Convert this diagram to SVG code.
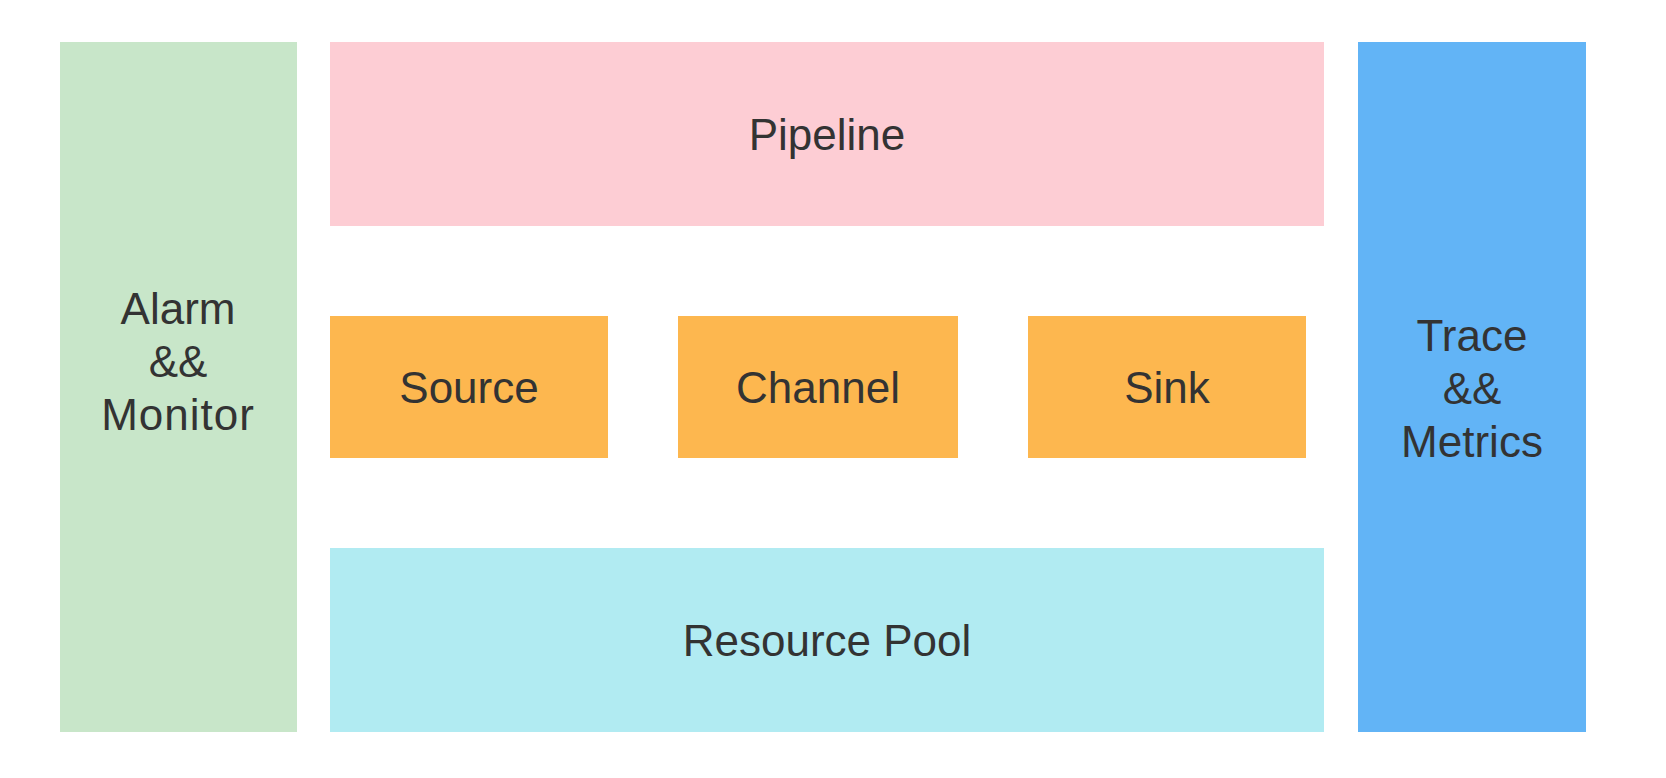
<svg xmlns="http://www.w3.org/2000/svg" width="1666" height="778" viewBox="0 0 1666 778">
<style>
text{font-family:"Liberation Sans",Arial,sans-serif;font-size:44px;fill:#333333;text-anchor:middle;dominant-baseline:central}
</style>
<rect x="0" y="0" width="1666" height="778" fill="#ffffff"/>
<g id="alarm"><rect x="60" y="42" width="237" height="690" fill="#C8E6C9"/><text x="178" y="308">Alarm</text><text x="178" y="361">&amp;&amp;</text><text x="178" y="414" letter-spacing="1">Monitor</text></g>
<g id="pipeline"><rect x="330" y="42" width="994" height="184" fill="#FDCDD4"/><text x="827" y="134">Pipeline</text></g>
<g id="source"><rect x="330" y="316" width="278" height="142" fill="#FDB74F"/><text x="469" y="387">Source</text></g>
<g id="channel"><rect x="678" y="316" width="280" height="142" fill="#FDB74F"/><text x="818" y="387">Channel</text></g>
<g id="sink"><rect x="1028" y="316" width="278" height="142" fill="#FDB74F"/><text x="1167" y="387">Sink</text></g>
<g id="resourcepool"><rect x="330" y="548" width="994" height="184" fill="#B1EBF2"/><text x="827" y="640">Resource Pool</text></g>
<g id="trace"><rect x="1358" y="42" width="228" height="690" fill="#62B4F6"/><text x="1472" y="335">Trace</text><text x="1472" y="388">&amp;&amp;</text><text x="1472" y="441">Metrics</text></g>
<g id="connectors"></g>
</svg>
